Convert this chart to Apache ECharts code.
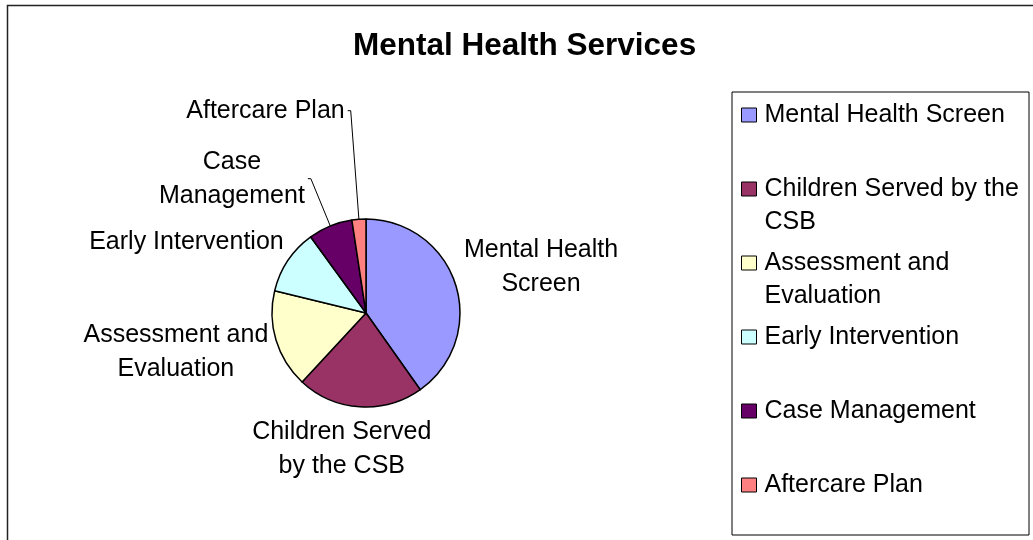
<!DOCTYPE html>
<html><head><meta charset="utf-8">
<script src="https://cdn.jsdelivr.net/npm/echarts@6/dist/echarts.min.js"></script>
<style>html,body{margin:0;padding:0;background:#fff}#c{width:1033px;height:540px}</style>
</head><body><div id="c"></div>
<script>
// ---- data ----
const titleText = 'Mental Health Services';
const categories = ['Mental Health Screen', 'Children Served by the CSB', 'Assessment and Evaluation', 'Early Intervention', 'Case Management', 'Aftercare Plan'];
const values = [40.2, 21.7, 16.9, 11.2, 7.6, 2.4];
const pieLabels = ['Mental Health\nScreen', 'Children Served\nby the CSB', 'Assessment and\nEvaluation', 'Early Intervention', 'Case\nManagement', 'Aftercare Plan'];
const legendLabels = ['Mental Health Screen', 'Children Served by the\nCSB', 'Assessment and\nEvaluation', 'Early Intervention', 'Case Management', 'Aftercare Plan'];

// ---- style / layout ----
const colors = ['#9999FF', '#993366', '#FFFFCC', '#CCFFFF', '#660066', '#FF8080'];
const FONT = '"Liberation Sans", Arial, sans-serif';
const labelLen = [56.5, 42.5, 42.5, 32.5, 51.2, 108.9];
const labelLen2 = [-48.5, -77.4, -36, -25.8, 3, 3];
const showLine = [false, false, false, false, true, true];
const LH = 34;      // pie label line height
const LLH = 33;     // legend line height

const chart = echarts.init(document.getElementById('c'), null, {renderer: 'canvas'});
chart.setOption({
  backgroundColor: '#fff',
  animation: false,
  color: colors,
  title: {
    text: titleText, left: 353, top: 30, padding: 0,
    textStyle: {fontFamily: FONT, fontSize: 31.5, fontWeight: 'bold', color: '#000'}
  },
  graphic: [
    {type: 'rect', shape: {x: 7.5, y: 5.5, width: 1040, height: 560}, style: {fill: 'none', stroke: '#222', lineWidth: 1.5}, silent: true},
    {type: 'rect', shape: {x: 732, y: 92, width: 297, height: 443}, style: {fill: 'none', stroke: '#000', lineWidth: 1}, silent: true}
  ],
  legend: {
    orient: 'vertical', left: 741, top: 65.5, padding: 0,
    itemWidth: 15, itemHeight: 14, itemGap: 74 - 3 * LLH, icon: 'rect',
    selectedMode: false,
    itemStyle: {borderColor: '#000', borderWidth: 1},
    formatter: function (name) {
      const t = legendLabels[categories.indexOf(name)];
      return '\n' + (t.indexOf('\n') >= 0 ? t : t + '\n ');
    },
    textStyle: {fontFamily: FONT, fontSize: 25, color: '#000', lineHeight: LLH, padding: [0, 0, 0, 3]},
    data: categories
  },
  series: [{
    type: 'pie',
    center: [366, 313],
    radius: 94,
    startAngle: 90,
    clockwise: true,
    avoidLabelOverlap: false,
    itemStyle: {borderColor: '#000', borderWidth: 1.5},
    emphasis: {disabled: true},
    label: {
      show: true, position: 'outside', alignTo: 'none',
      fontFamily: FONT, fontSize: 25, color: '#000', lineHeight: LH,
      distanceToLabelLine: 3
    },
    labelLine: {lineStyle: {color: '#000', width: 1}},
    labelLayout: function (p) {
      const r = p.labelRect;
      return {
        x: r.x + r.width / 2, y: r.y + r.height / 2,
        align: 'center', verticalAlign: 'middle',
        labelLinePoints: p.labelLinePoints
      };
    },
    data: categories.map(function (name, i) {
      return {
        name: name, value: values[i],
        label: {formatter: pieLabels[i]},
        labelLine: {show: showLine[i], length: labelLen[i], length2: labelLen2[i]}
      };
    })
  }]
});
</script></body></html>
